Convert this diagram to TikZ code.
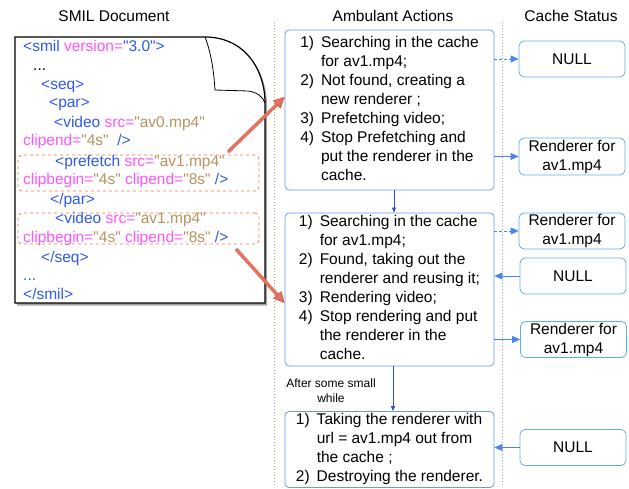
\documentclass[tikz,border=0pt]{standalone}
\usepackage{fontspec}
\setmainfont{Liberation Sans}[Ligatures=TeXOff]
\usetikzlibrary{arrows.meta,calc}
\definecolor{tagblue}{HTML}{2E5BEA}
\definecolor{attmag}{HTML}{FF55FF}
\definecolor{valtan}{HTML}{B8935E}
\definecolor{boxblue}{HTML}{6A9AEF}
\definecolor{cacheblue}{HTML}{5BB0F2}
\definecolor{arrblue}{HTML}{4A84EC}
\definecolor{vblue}{HTML}{3050D0}
\definecolor{redarr}{HTML}{E2735F}
\definecolor{redarredge}{HTML}{C8553F}
\definecolor{dashred}{HTML}{F0785A}
\newcommand{\smTag}[1]{\textcolor{tagblue}{#1}}
\newcommand{\smAtt}[1]{\textcolor{attmag}{#1}}
\newcommand{\smVal}[1]{\textcolor{valtan}{#1}}
\tikzset{
  mainfont/.style={font=\fontsize{15.5}{19}\selectfont},
  titletext/.style={mainfont, inner sep=0pt},
  code/.style={mainfont, anchor=base west, inner sep=0pt},
  actbox/.style={mainfont, draw=boxblue, line width=0.8pt, rounded corners=4pt, minimum width=209pt, inner sep=0pt},
  cachebox/.style={mainfont, draw=cacheblue, line width=0.8pt, rounded corners=5pt, minimum width=106pt, minimum height=36pt, align=center, inner sep=0pt},
  dashbox/.style={draw=dashred, dashed, line width=0.8pt, rounded corners=4pt, minimum width=241pt, inner sep=0pt},
  harrow/.style={draw=arrblue, line width=0.9pt, -{Triangle[width=7pt,length=8pt]}},
  varrow/.style={draw=vblue, line width=0.7pt, -{Triangle[width=4pt,length=5pt]}},
  redarrow/.style={draw=redarr, line width=3.5pt, -{Triangle[width=11pt,length=11pt,fill=redarr,color=redarredge,line width=0.6pt]}},
  sepline/.style={draw=gray!70, line width=0.8pt, dash pattern=on 1pt off 2pt},
}
\begin{document}
\begin{tikzpicture}[x=1pt,y=-1pt]
\useasboundingbox (0,0) rectangle (629,489);

% titles
\node[titletext] (t1) at (114,16) {SMIL Document};
\node[titletext] (t2) at (393,16) {Ambulant Actions};
\node[titletext] (t3) at (571,16) {Cache Status};

% separators
\draw[sepline] (274,22) -- (274,486);
\draw[sepline] (502,22) -- (502,486);

% document
\fill[black!35, xshift=2pt, yshift=-2.5pt] (15,37) -- (205,37) .. controls (245,37) and (265,70) .. (265,103) -- (265,303) -- (15,303) -- cycle;
\draw[fill=white, line width=1.2pt] (15,37) -- (205,37) .. controls (245,37) and (265,70) .. (265,103) -- (265,303) -- (15,303) -- cycle;
\draw[line width=0.8pt] (205,37) .. controls (212,55) and (214,75) .. (215,90) -- (248,91) .. controls (257,92) and (263,97) .. (265,103);

% dashed boxes
\node[dashbox, minimum height=36pt] (pf) at (138.5,173) {};
\node[dashbox, minimum height=31pt] (vd) at (138.5,228.5) {};

% code
\node[code] (c1) at (23,52) {\smTag{<smil} \smAtt{version=}\smTag{"3.0">}};
\node[code] (c2) at (33,71) {...};
\node[code] (c3) at (41,90) {\smTag{<seq>}};
\node[code] (c4) at (49,108) {\smTag{<par>}};
\node[code] (c5) at (54,128) {\smTag{<video} \smAtt{src=}\smVal{"av0.mp4"}};
\node[code] (c6) at (23,146) {\smAtt{clipend=}\smVal{"4s"}\ \ \smTag{/>}};
\node[code] (c7) at (55,167) {\smTag{<prefetch} \smAtt{src=}\smVal{"av1.mp4"}};
\node[code] (c8) at (23,185) {\smAtt{clipbegin=}\smVal{"4s"} \smAtt{clipend=}\smVal{"8s"} \smTag{/>}};
\node[code] (c9) at (50,205) {\smTag{</par>}};
\node[code] (c10) at (55,224) {\smTag{<video} \smAtt{src=}\smVal{"av1.mp4"}};
\node[code] (c11) at (23,242) {\smAtt{clipbegin=}\smVal{"4s"} \smAtt{clipend=}\smVal{"8s"} \smTag{/>}};
\node[code] (c12) at (41,262) {\smTag{</seq>}};
\node[code] (c13) at (23,280) {\smTag{...}};
\node[code] (c14) at (23,299) {\smTag{</smil>}};

% action boxes
\node[actbox, minimum height=160pt] (A) at (389.5,110) {\begin{tabular}{@{}r@{\hspace{7pt}}l@{}}
1) & Searching in the cache\\
   & for av1.mp4;\\
2) & Not found, creating a\\
   & new renderer ;\\
3) & Prefetching video;\\
4) & Stop Prefetching and\\
   & put the renderer in the\\
   & cache.
\end{tabular}};
\node[actbox, minimum height=153pt] (B) at (389.5,289.5) {\begin{tabular}{@{}r@{\hspace{7pt}}l@{}}
1) & Searching in the cache\\
   & for av1.mp4;\\
2) & Found, taking out the\\
   & renderer and reusing it;\\
3) & Rendering video;\\
4) & Stop rendering and put\\
   & the renderer in the\\
   & cache.
\end{tabular}};
\node[actbox, minimum height=75pt] (C) at (389.5,449.5) {\begin{tabular}{@{}r@{\hspace{7pt}}l@{}}
1) & Taking the renderer with\\
   & url = av1.mp4 out from\\
   & the cache ;\\
2) & Destroying the renderer.
\end{tabular}};

% cache boxes
\node[cachebox] (N1) at (572,59) {NULL};
\node[cachebox, minimum height=37pt] (R1) at (572,156.5) {Renderer for\\av1.mp4};
\node[cachebox] (R2) at (572,231) {Renderer for\\av1.mp4};
\node[cachebox] (N2) at (573,276) {NULL};
\node[cachebox] (R3) at (573.5,339.5) {Renderer for\\av1.mp4};
\node[cachebox] (N3) at (573,447.5) {NULL};

% horizontal arrows
\draw[harrow, dash pattern=on 3pt off 2pt] (A.east |- N1.west) -- (N1.west);
\draw[harrow] (A.east |- R1.west) -- (R1.west);
\draw[harrow, dash pattern=on 3pt off 2pt] (B.east |- R2.west) -- (R2.west);
\draw[harrow] (N2.west) -- (B.east |- N2.west);
\draw[harrow] (B.east |- R3.west) -- (R3.west);
\draw[harrow] (N3.west) -- (C.east |- N3.west);

% vertical arrows
\draw[varrow] ([xshift=4.5pt]A.south) -- ([xshift=4.5pt]B.north);
\draw[varrow] ([xshift=3.5pt]B.south) -- ([xshift=3.5pt]C.north);
\node[font=\fontsize{12}{15}\selectfont, align=center, inner sep=0pt] (lbl) at (331,391) {After some small\\while};

% red arrows
\coordinate (r1s) at (228,152);
\coordinate (r2s) at (236,249);
\draw[redarrow] (r1s) -- ([yshift=13pt]A.west);
\draw[redarrow] (r2s) -- ([yshift=-13.5pt]B.west);
\end{tikzpicture}
\end{document}
